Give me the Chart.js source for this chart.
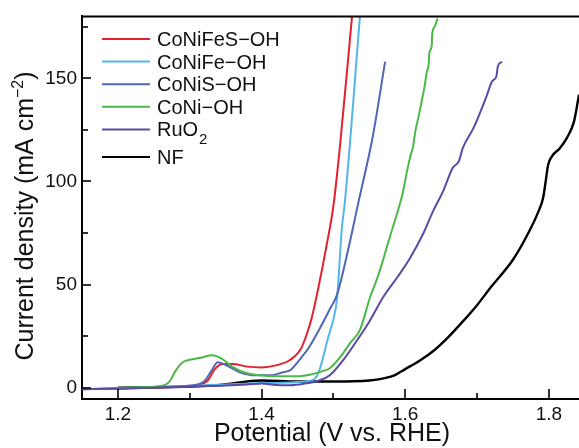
<!DOCTYPE html>
<html>
<head>
<meta charset="utf-8">
<script src="https://cdn.jsdelivr.net/npm/chart.js@4.4.1/dist/chart.umd.min.js"></script>
<style>
  html, body { margin: 0; padding: 0; background: #fff; }
  canvas { display: block; }
</style>
</head>
<body>
<canvas id="lsv" width="579" height="448" style="width:579px;height:448px"></canvas>
<script>
// LSV curves: potential (V vs. RHE) and current density (mA cm-2)
const potCoNiFeS = [1.20, 1.25, 1.29, 1.31, 1.325, 1.335, 1.345, 1.36, 1.38, 1.40, 1.42, 1.44, 1.455, 1.463, 1.47, 1.48, 1.49, 1.50, 1.51, 1.526];
const curCoNiFeS = [-0.5, 0, 0.5, 1.2, 3.5, 9, 11.5, 11.5, 10.2, 9.8, 10.8, 13.5, 19, 26, 34, 50, 68, 88, 120, 180];

const potCoNiFe = [1.15, 1.20, 1.25, 1.30, 1.35, 1.40, 1.44, 1.46, 1.47, 1.477, 1.482, 1.486, 1.491, 1.495, 1.50, 1.505, 1.512, 1.516, 1.537];
const curCoNiFe = [-0.8, -0.3, 0.3, 0.8, 1.5, 2.2, 2.5, 3.0, 3.5, 5.5, 10, 15, 22, 27, 33, 43, 78, 90, 180];

const potCoNiS = [1.15, 1.20, 1.26, 1.30, 1.32, 1.33, 1.339, 1.35, 1.37, 1.39, 1.412, 1.43, 1.44, 1.454, 1.465, 1.48, 1.495, 1.505, 1.52, 1.535, 1.555, 1.572];
const curCoNiS = [-0.8, -0.3, 0.3, 1, 3, 8, 12.3, 11, 7.5, 6, 6, 7.5, 8.5, 14, 19, 28, 38, 45, 66, 90, 122, 158];

const potCoNi = [1.20, 1.25, 1.265, 1.272, 1.28, 1.289, 1.30, 1.315, 1.331, 1.345, 1.36, 1.38, 1.398, 1.42, 1.45, 1.47, 1.485, 1.495, 1.51, 1.523, 1.537, 1.551, 1.56, 1.569, 1.576, 1.583, 1.59, 1.597, 1.602, 1.607, 1.611, 1.614, 1.619, 1.623, 1.627, 1.630, 1.633, 1.6335, 1.637, 1.6375, 1.641, 1.645];
const curCoNi = [0, 0.5, 1.2, 3, 8, 12, 13.5, 14.5, 15.7, 14, 10, 7, 6, 5.5, 5.5, 6.5, 8, 9.4, 15, 21.5, 28, 43.7, 52, 61.6, 70, 78, 86, 95, 104, 112, 117, 124, 132, 139, 146, 153, 158, 162, 166, 171, 175, 179];

const potRuO2 = [1.15, 1.20, 1.25, 1.30, 1.35, 1.38, 1.40, 1.42, 1.44, 1.46, 1.48, 1.495, 1.515, 1.533, 1.55, 1.569, 1.59, 1.607, 1.625, 1.639, 1.653, 1.666, 1.675, 1.68, 1.695, 1.705, 1.714, 1.721, 1.727, 1.729, 1.735];
const curRuO2 = [-0.8, -0.5, 0, 0.5, 1, 1.5, 2, 1.3, 1.2, 2, 3.5, 6, 14, 23, 32, 43.7, 54, 63, 74.6, 85.7, 95.4, 106.5, 110, 116, 125.8, 134, 142, 148.5, 151, 155.8, 158];

const potNF = [1.20, 1.25, 1.30, 1.33, 1.36, 1.38, 1.40, 1.45, 1.50, 1.55, 1.57, 1.585, 1.60, 1.62, 1.64, 1.66, 1.68, 1.70, 1.72, 1.75, 1.77, 1.785, 1.792, 1.796, 1.799, 1.805, 1.815, 1.825, 1.835, 1.842];
const curNF = [0, 0.2, 0.5, 1, 2, 3, 3.5, 3, 3, 3.5, 4.5, 6, 9, 13, 18, 24.5, 32, 40, 49, 62, 74, 85, 92, 101, 108, 112.5, 116, 121, 129, 142];

const seriesNames = ['CoNiFeS\u2212OH', 'CoNiFe\u2212OH', 'CoNiS\u2212OH', 'CoNi\u2212OH', 'RuO\u2082', 'NF'];
const seriesColors = ['#e3202b', '#52b6e8', '#5067b5', '#4cb848', '#5a4aa6', '#000000'];

const xMajor = [1.2, 1.4, 1.6, 1.8];
const xMinor = [1.3, 1.5, 1.7];
const yMajor = [0, 50, 100, 150];
const yMinor = [25, 75, 125, 175];

const FONT = '"Liberation Sans", Arial, Helvetica, sans-serif';

function pares(xs, ys) {
    return xs.map((v, i) => ({ x: v, y: ys[i] }));
}

const curvas = [
    pares(potCoNiFeS, curCoNiFeS),
    pares(potCoNiFe, curCoNiFe),
    pares(potCoNiS, curCoNiS),
    pares(potCoNi, curCoNi),
    pares(potRuO2, curRuO2),
    pares(potNF, curNF)
];

const datasets = curvas.map((d, i) => ({
    label: seriesNames[i],
    data: d,
    borderColor: seriesColors[i],
    backgroundColor: seriesColors[i],
    borderWidth: i === 5 ? 2.4 : 2,
    pointRadius: 0,
    cubicInterpolationMode: 'monotone',
    fill: false
}));
// draw order like the figure: NF at the back
datasets.forEach((d, i) => { d.order = i === 5 ? 10 : 6 - i; });

// ticks, top border, legend and axis titles
const marco = {
    id: 'marco',
    afterDraw(chart) {
        const ctx = chart.ctx;
        const a = chart.chartArea;
        const sx = chart.scales.x, sy = chart.scales.y;
        ctx.save();
        ctx.strokeStyle = '#000';
        ctx.lineWidth = 2;
        ctx.beginPath();
        ctx.moveTo(a.left - 1, a.top);
        ctx.lineTo(a.right, a.top);
        ctx.stroke();

        ctx.lineWidth = 1.6;
        const tickX = (v, len) => {
            const p = Math.round(sx.getPixelForValue(v));
            ctx.beginPath(); ctx.moveTo(p, a.bottom); ctx.lineTo(p, a.bottom - len); ctx.stroke();
        };
        const tickY = (v, len) => {
            const p = Math.round(sy.getPixelForValue(v));
            ctx.beginPath(); ctx.moveTo(a.left, p); ctx.lineTo(a.left + len, p); ctx.stroke();
        };
        xMajor.forEach(v => tickX(v, 10));
        xMinor.forEach(v => tickX(v, 6));
        yMajor.forEach(v => tickY(v, 9));
        yMinor.forEach(v => tickY(v, 6));

        // legend
        ctx.textAlign = 'left';
        ctx.textBaseline = 'alphabetic';
        chart.data.datasets.forEach((ds, i) => {
            const y = 39 + i * 22.6 + (i === 5 ? 5 : 0);
            ctx.strokeStyle = ds.borderColor;
            ctx.lineWidth = 2;
            ctx.beginPath(); ctx.moveTo(102, y); ctx.lineTo(150, y); ctx.stroke();
            ctx.fillStyle = '#111';
            let txt = ds.label;
            const sub = txt.endsWith('\u2082');
            if (sub) txt = txt.slice(0, -1);
            ctx.font = '20px ' + FONT;
            ctx.fillText(txt, 157, y + 7);
            if (sub) {
                const w = ctx.measureText(txt).width;
                ctx.font = '15px ' + FONT;
                ctx.fillText('2', 157 + w + 1, y + 15);
            }
        });

        // x title
        ctx.fillStyle = '#111';
        ctx.font = '25px ' + FONT;
        ctx.textAlign = 'center';
        ctx.fillText('Potential (V vs. RHE)', 332, 441);

        // y title with superscript
        ctx.save();
        ctx.translate(33, 216);
        ctx.rotate(-Math.PI / 2);
        const main = 'Current density (mA cm';
        const sup = '\u22122';
        ctx.font = '25px ' + FONT;
        const w1 = ctx.measureText(main).width;
        const w3 = ctx.measureText(')').width;
        ctx.font = '16px ' + FONT;
        const w2 = ctx.measureText(sup).width;
        let x0 = -(w1 + w2 + w3) / 2;
        ctx.textAlign = 'left';
        ctx.font = '25px ' + FONT;
        ctx.fillText(main, x0, 0);
        ctx.font = '16px ' + FONT;
        ctx.fillText(sup, x0 + w1, -10);
        ctx.font = '25px ' + FONT;
        ctx.fillText(')', x0 + w1 + w2, 0);
        ctx.restore();
        ctx.restore();
    }
};

new Chart(document.getElementById('lsv').getContext('2d'), {
    type: 'line',
    data: { datasets: datasets },
    options: {
        responsive: false,
        animation: false,
        devicePixelRatio: 1,
        layout: { padding: { top: 16, right: 0, left: 0, bottom: 0 } },
        plugins: {
            legend: { display: false },
            title: { display: false },
            tooltip: { enabled: false }
        },
        scales: {
            x: {
                type: 'linear',
                min: 1.15,
                max: 1.842,
                afterBuildTicks: s => { s.ticks = xMajor.map(v => ({ value: v })); },
                afterFit: s => { s.height = 49; },
                ticks: {
                    callback: v => v.toFixed(1),
                    font: { family: FONT, size: 19 },
                    color: '#111',
                    padding: 4,
                    maxRotation: 0
                },
                grid: { display: false, drawTicks: false },
                border: { display: true, color: '#000', width: 2 }
            },
            y: {
                type: 'linear',
                min: -5.5,
                max: 180,
                afterBuildTicks: s => { s.ticks = yMajor.map(v => ({ value: v })); },
                afterFit: s => { s.width = 82; },
                ticks: {
                    callback: v => String(v),
                    font: { family: FONT, size: 19 },
                    color: '#111',
                    padding: 5
                },
                grid: { display: false, drawTicks: false },
                border: { display: true, color: '#000', width: 2 }
            }
        }
    },
    plugins: [marco]
});
</script>
</body>
</html>
